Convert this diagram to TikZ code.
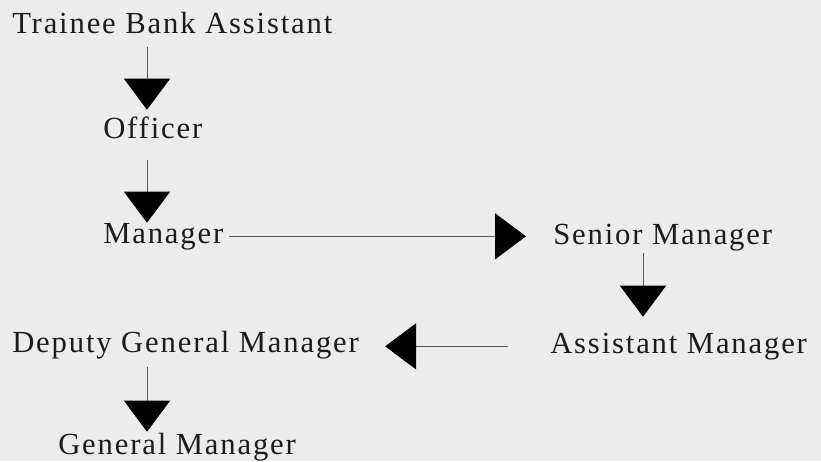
\documentclass[tikz,border=0pt]{standalone}
\usepackage{fontspec}
\setmainfont[LetterSpace=6]{Liberation Serif}
\usepackage{xcolor}
\usetikzlibrary{arrows.meta,calc}
\definecolor{backdrop}{RGB}{237,236,236}
\definecolor{inkgray}{RGB}{28,28,28}
\definecolor{linegray}{RGB}{90,90,90}
\tikzset{
  post/.style={anchor=base west,inner sep=0pt,text height=15pt,text depth=5pt,
    text=inkgray,font=\fontsize{23}{27}\selectfont},
  flow/.style={draw=linegray,line width=0.75pt,
    -{Triangle[width=34.5pt,length=23.25pt,color=black]}},
}

\begin{document}
\begin{tikzpicture}[x=0.75pt,y=-0.75pt]
          \fill[backdrop] (0,0) rectangle (821,461);
          \useasboundingbox (0,0) rectangle (821,461);
          \node[post] (trainee) at (12,33) {Trainee Bank Assistant};
          \node[post] (officer) at (103,138) {Officer};
          \node[post] (manager) at (103,243) {Manager};
          \node[post] (senior) at (553,244) {Senior Manager};
          \node[post] (assistant) at (550,353) {Assistant Manager};
          \node[post] (deputy) at (12,352) {Deputy General Manager};
          \node[post] (general) at (58,454) {General Manager};
          \draw[flow,shorten <=5.5pt,shorten >=6pt] ([xshift=101.25pt]trainee.south west) -- ([xshift=33pt]officer.north west);
          \draw[flow,shorten <=11.5pt] ([xshift=33pt]officer.south west) -- ([xshift=33pt]manager.north west);
          \draw[flow,shorten <=3.75pt,shorten >=20.25pt] (manager.east) -- (manager.east -| senior.west);
          \draw[flow,shorten <=1.75pt,shorten >=12pt] ([xshift=67.5pt]senior.south west) -- ([xshift=69.75pt]assistant.north west);
          \draw[flow,shorten <=31.5pt,shorten >=19.5pt] (assistant.west) -- (assistant.west -| deputy.east);
          \draw[flow,shorten <=6.25pt,shorten >=1.5pt] ([xshift=101.25pt]deputy.south west) -- ([xshift=66.75pt]general.north west);
        \end{tikzpicture}
\end{document}
